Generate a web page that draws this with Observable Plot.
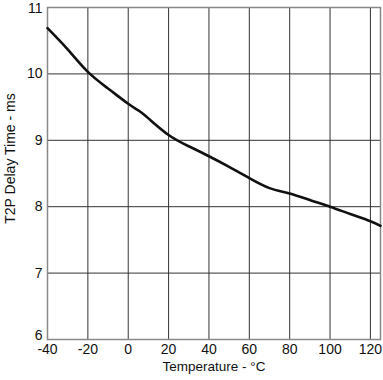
<!DOCTYPE html>
<html>
<head>
<meta charset="utf-8">
<script src="https://cdn.jsdelivr.net/npm/d3@7"></script>
<script src="https://cdn.jsdelivr.net/npm/@observablehq/plot@0.6"></script>
<style>
  html, body { margin: 0; padding: 0; background: #fff; }
  svg { display: block; }
</style>
</head>
<body>
<div id="chart"></div>
<script>
const temperature = [-40, -30, -20, -10, 0, 5, 10, 20, 30, 40, 50, 60, 70, 80, 90, 100, 110, 120, 125];
const delayTime   = [10.69, 10.37, 10.03, 9.78, 9.55, 9.45, 9.33, 9.08, 8.91, 8.76, 8.6, 8.43, 8.28, 8.2, 8.1, 8.0, 7.89, 7.78, 7.71];
const xTicks = [-40, -20, 0, 20, 40, 60, 80, 100, 120];
const yTicks = [6, 7, 8, 9, 10, 11];

const data = temperature.map((t, i) => ({t, v: delayTime[i]}));

const chart = Plot.plot({
  width: 383,
  height: 380,
  marginLeft: 47,
  marginRight: 3,
  marginTop: 7,
  marginBottom: 41,
  style: {fontFamily: "'Liberation Sans', Arial, sans-serif", fontSize: "14px", color: "#111", background: "#fff"},
  x: {domain: [-40, 125], ticks: xTicks, label: null},
  y: {domain: [6, 11], ticks: yTicks, label: null},
  marks: [
    Plot.gridX(xTicks, {stroke: "#333", strokeOpacity: 1, strokeWidth: 1}),
    Plot.gridY(yTicks, {stroke: "#333", strokeOpacity: 1, strokeWidth: 1}),
    Plot.frame({stroke: "#888", strokeWidth: 1.5}),
    Plot.axisX(xTicks, {tickSize: 0, tickPadding: 5, fontSize: 14, label: null, tickFormat: d => String(d)}),
    Plot.axisY(yTicks.slice(1, 5), {tickSize: 0, tickPadding: 5, fontSize: 14, label: null, tickFormat: d => String(d)}),
    Plot.axisY(yTicks.slice(5), {tickSize: 0, tickPadding: 5, dy: 1, fontSize: 14, label: null, tickFormat: d => String(d)}),
    Plot.axisY(yTicks.slice(0, 1), {tickSize: 0, tickPadding: 5, dy: -4, fontSize: 14, label: null, tickFormat: d => String(d)}),
    Plot.line(data, {x: "t", y: "v", curve: "natural", stroke: "#111", strokeWidth: 2.6}),
    Plot.text(["Temperature - °C"], {frameAnchor: "bottom", dy: 31, fontSize: 13.5, fill: "#111"}),
    Plot.text(["T2P Delay Time - ms"], {frameAnchor: "left", textAnchor: "middle", dx: -37, dy: -15, rotate: -90, fontSize: 14, fill: "#111"})
  ]
});
document.getElementById("chart").appendChild(chart);
</script>
</body>
</html>
